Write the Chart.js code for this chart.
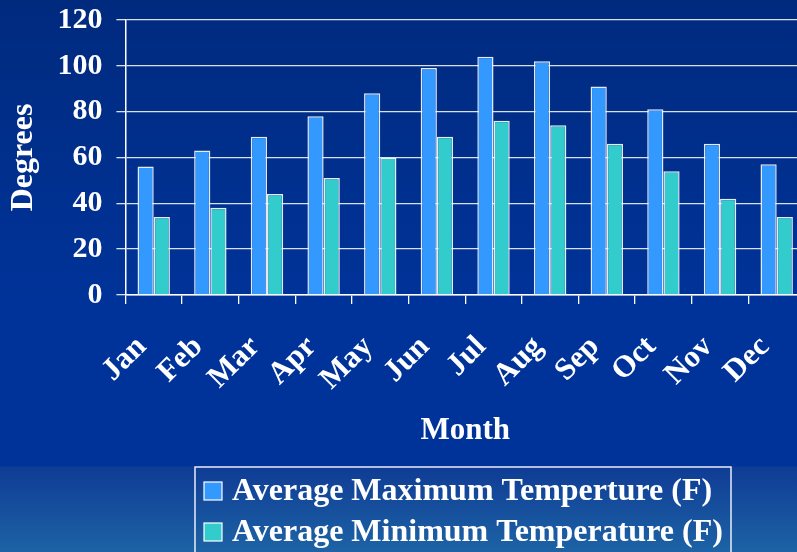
<!DOCTYPE html>
<html>
<head>
<meta charset="utf-8">
<script src="https://cdn.jsdelivr.net/npm/chart.js@4/dist/chart.umd.min.js"></script>
<style>
  html, body { margin: 0; padding: 0; overflow: hidden; }
  body {
    width: 797px; height: 552px;
    background: linear-gradient(to bottom, #002a7e 0px, #003399 300px, #003399 466px, #0f3c95 467px, #1d63a5 552px);
  }
  #wrap { position: absolute; left: 0; top: 0; width: 828px; height: 552px; }
</style>
</head>
<body>
<div id="wrap"><canvas id="myChart" width="828" height="552"></canvas></div>
<script>
const months = ['Jan', 'Feb', 'Mar', 'Apr', 'May', 'Jun', 'Jul', 'Aug', 'Sep', 'Oct', 'Nov', 'Dec'];
const avgMax = [56, 63, 69, 78, 88, 99, 104, 102, 91, 81, 66, 57];
const avgMin = [34, 38, 44, 51, 60, 69, 76, 74, 66, 54, 42, 34];
const seriesNames = ['Average Maximum Temperture (F)', 'Average Minimum Temperature (F)'];
const seriesColors = ['#3399ff', '#33cccc'];

const serif = 'Liberation Serif, Times New Roman, serif';

// legend drawn by hand so it can have the boxed, left aligned look
const boxLegend = {
  id: 'boxLegend',
  afterDraw(chart) {
    const ctx = chart.ctx;
    const left = 195, top = chart.height - 85;
    ctx.save();
    ctx.strokeStyle = 'rgba(255,255,255,0.9)';
    ctx.lineWidth = 1.5;
    ctx.strokeRect(left, top, 536, 120);
    ctx.font = 'bold 32px ' + serif;
    ctx.textBaseline = 'middle';
    chart.data.datasets.forEach((ds, i) => {
      const cy = top + 24 + i * 41;
      ctx.fillStyle = ds.backgroundColor;
      ctx.fillRect(left + 9, cy - 9, 18, 18);
      ctx.strokeStyle = '#ffffff';
      ctx.lineWidth = 1.2;
      ctx.strokeRect(left + 9, cy - 9, 18, 18);
      ctx.fillStyle = '#ffffff';
      ctx.fillText(ds.label, left + 37, cy + 1);
    });
    ctx.restore();
  }
};

Chart.defaults.font.family = serif;
Chart.defaults.color = '#ffffff';

var myChart = new Chart(document.getElementById('myChart'), {
  type: 'bar',
  data: {
    labels: months,
    datasets: [
      { label: seriesNames[0], data: avgMax, backgroundColor: seriesColors[0] },
      { label: seriesNames[1], data: avgMin, backgroundColor: seriesColors[1] }
    ]
  },
  options: {
    responsive: false,
    animation: false,
    devicePixelRatio: 1,
    layout: { padding: { left: 5, top: 8, right: 0, bottom: 102 } },
    datasets: {
      bar: {
        categoryPercentage: 0.572,
        barPercentage: 1,
        borderWidth: 1.5,
        borderColor: 'rgba(255,255,255,0.9)'
      }
    },
    plugins: {
      legend: { display: false },
      tooltip: { enabled: false }
    },
    scales: {
      x: {
        offset: true,
        grid: { display: true, drawOnChartArea: false, drawTicks: true, tickLength: 9, color: '#ffffff', lineWidth: 1.3, offset: true },
        border: { color: '#ffffff', width: 1.5 },
        ticks: { color: '#ffffff', font: { size: 31, weight: 'bold' }, minRotation: 45, maxRotation: 45, padding: 25, labelOffset: -12, autoSkip: false },
        title: { display: true, text: 'Month', color: '#ffffff', font: { size: 31, weight: 'bold' }, padding: { top: -10, bottom: 0 } }
      },
      y: {
        min: 0,
        max: 120,
        grid: { color: 'rgba(255,255,255,0.85)', lineWidth: 1.3, tickLength: 9 },
        border: { color: '#ffffff', width: 1.5 },
        ticks: { stepSize: 20, color: '#ffffff', font: { size: 30, weight: 'bold', lineHeight: 0.4 }, padding: 14 },
        title: { display: true, text: 'Degrees', color: '#ffffff', font: { size: 32, weight: 'bold' }, padding: { top: 0, bottom: 0 } }
      }
    }
  },
  plugins: [boxLegend]
});
</script>
</body>
</html>
